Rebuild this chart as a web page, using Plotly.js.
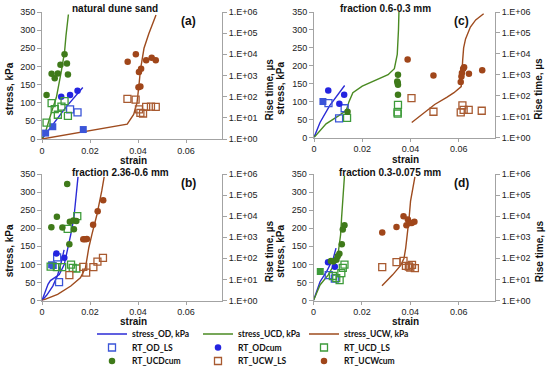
<!DOCTYPE html>
<html><head><meta charset="utf-8">
<script src="https://cdn.plot.ly/plotly-3.0.1.min.js"></script>
<style>html,body{margin:0;padding:0;background:#fff}#chart{width:550px;height:372px}</style>
</head><body><div id="chart"></div>
<script>
// ---------- tick labels ----------
const strainTickVals = [0, 0.02, 0.04, 0.06];
const strainTickText = ['0', '0.02', '0.04', '0.06'];
const stressTickVals = [0, 50, 100, 150, 200, 250, 300, 350];
const rtTickVals = [1, 10, 100, 1000, 10000, 100000, 1000000];
const rtTickText = ['1.E+00', '1.E+01', '1.E+02', '1.E+03', '1.E+04', '1.E+05', '1.E+06'];
const panelTitles = ['natural dune sand', 'fraction 2.36-0.6 mm', 'fraction 0.6-0.3 mm', 'fraction 0.3-0.075 mm'];
const panelLetters = ['(a)', '(b)', '(c)', '(d)'];

// ---------- panel (a) natural dune sand ----------
const a_OD_strain = [0, 0.0046, 0.0100, 0.0170];
const a_OD_stress = [0, 42, 88, 142];
const a_UCD_strain = [0, 0.0015, 0.004, 0.006, 0.008, 0.0094, 0.010, 0.011];
const a_UCD_stress = [0, 20, 75, 115, 185, 240, 285, 343];
const a_UCW_strain = [0, 0.0355, 0.0382, 0.0396, 0.0405, 0.041, 0.0425, 0.0445, 0.0475];
const a_UCW_stress = [0, 41, 68, 100, 155, 190, 250, 290, 342];
const a_RT_OD_LS_strain = [0.0117, 0.0148];
const a_RT_OD_LS_us = [25, 18];
const a_RT_OD_LS_solid_strain = [0.0015, 0.0045, 0.0172];
const a_RT_OD_LS_solid_us = [1.9, 3.8, 2.8];
const a_RT_ODcum_strain = [0.0080, 0.0117, 0.0148];
const a_RT_ODcum_us = [100, 120, 190];
const a_RT_UCD_LS_strain = [0.0019, 0.0040, 0.0053, 0.0066, 0.0081, 0.0094, 0.0108];
const a_RT_UCD_LS_us = [6, 50, 26, 14, 34, 62, 12.5];
const a_RT_UCDcum_strain = [0.0019, 0.0040, 0.0053, 0.0066, 0.0077, 0.0094, 0.0104, 0.0108];
const a_RT_UCDcum_us = [120, 1200, 750, 1250, 3200, 10000, 3700, 1100];
const a_RT_UCW_LS_strain = [0.0356, 0.0390, 0.0404, 0.0410, 0.0421, 0.0434, 0.0454, 0.0474];
const a_RT_UCW_LS_us = [78, 72, 25, 17, 16, 33, 34, 33];
const a_RT_UCWcum_strain = [0.0357, 0.0391, 0.0404, 0.0413, 0.0402, 0.0410, 0.0434, 0.0457, 0.0474];
const a_RT_UCWcum_us = [4500, 10000, 1450, 2100, 280, 300, 5200, 6900, 5300];

// ---------- panel (b) fraction 2.36-0.6 mm ----------
const b_OD_strain = [0, 0.002, 0.0045, 0.0065, 0.008, 0.0092];
const b_OD_stress = [0, 15, 40, 70, 105, 140];
const b_UCD_strain = [0, 0.0012, 0.0025, 0.0035, 0.005, 0.0072, 0.0093, 0.0106, 0.012, 0.0133, 0.0142, 0.015];
const b_UCD_stress = [0, 20, 45, 55, 62, 72, 100, 137, 183, 229, 280, 342];
const b_UCW_strain = [0, 0.0065, 0.012, 0.016, 0.0181, 0.0188, 0.0195, 0.0208, 0.0229, 0.0249, 0.0259];
const b_UCW_stress = [0, 17, 40, 63, 90, 118, 146, 183, 238, 303, 342];
const b_RT_OD_LS_strain = [0.0063, 0.0071];
const b_RT_OD_LS_us = [110, 7.5];
const b_RT_OD_LS_solid_strain = [0.0040, 0.0047];
const b_RT_OD_LS_solid_us = [50, 46];
const b_RT_ODcum_strain = [0.0060, 0.0093];
const b_RT_ODcum_us = [170, 107];
const b_RT_UCD_LS_strain = [0.0036, 0.0062, 0.0084, 0.0107, 0.0121, 0.0128, 0.0143, 0.0147];
const b_RT_UCD_LS_us = [40, 38, 38, 2500, 50, 35, 33, 10000];
const b_RT_UCDcum_strain = [0.0105, 0.0062, 0.0039, 0.0085, 0.0116, 0.0131, 0.0143, 0.0133, 0.0114];
const b_RT_UCDcum_us = [340000, 9500, 3000, 2900, 5500, 6300, 5900, 2400, 460];
const b_RT_UCW_LS_strain = [0.0114, 0.0172, 0.0184, 0.0214, 0.0231, 0.0254];
const b_RT_UCW_LS_us = [16, 39, 21, 38, 70, 105];
const b_RT_UCWcum_strain = [0.0255, 0.0232, 0.0213, 0.0172, 0.0180, 0.0187];
const b_RT_UCWcum_us = [57000, 17000, 3900, 800, 810, 820];

// ---------- panel (c) fraction 0.6-0.3 mm ----------
const c_OD_strain = [0, 0.0025, 0.0065, 0.0099, 0.0127];
const c_OD_stress = [0, 42, 89, 119, 145];
const c_UCD_strain = [0, 0.005, 0.0103, 0.0134, 0.0145, 0.0161, 0.020, 0.0253, 0.0307, 0.0333, 0.0345, 0.035, 0.0352];
const c_UCD_stress = [0, 38, 61, 76, 100, 125, 143, 158, 175, 192, 232, 300, 350];
const c_UCW_strain = [0.0405, 0.045, 0.050, 0.055, 0.058, 0.061, 0.0614, 0.0616, 0.062, 0.0628, 0.0648, 0.067, 0.0703];
const c_UCW_stress = [42, 65, 92, 112, 125, 142, 175, 215, 250, 275, 308, 328, 345];
const c_RT_OD_LS_strain = [0.0060, 0.0104, 0.0127];
const c_RT_OD_LS_us = [44, 8.3, 25];
const c_RT_OD_LS_solid_strain = [0.0037];
const c_RT_OD_LS_solid_us = [53];
const c_RT_ODcum_strain = [0.0059, 0.0105, 0.0125];
const c_RT_ODcum_us = [178, 41, 112];
const c_RT_UCD_LS_strain = [0.0137, 0.0348, 0.0346, 0.0347];
const c_RT_UCD_LS_us = [8.7, 36, 16, 14];
const c_RT_UCDcum_strain = [0.0139, 0.0348, 0.0345, 0.0347, 0.0348, 0.0348];
const c_RT_UCDcum_us = [17, 1000, 480, 400, 330, 110];
const c_RT_UCW_LS_strain = [0.0404, 0.0495, 0.0608, 0.0615, 0.0620, 0.0641, 0.0695];
const c_RT_UCW_LS_us = [76, 17, 16, 34, 21, 21, 19];
const c_RT_UCWcum_strain = [0.0388, 0.0495, 0.0608, 0.0611, 0.0613, 0.0618, 0.0622, 0.0642, 0.0697];
const c_RT_UCWcum_us = [5400, 930, 450, 830, 1200, 1950, 2300, 1120, 1620];

// ---------- panel (d) fraction 0.3-0.075 mm ----------
const d_OD_strain = [0, 0.0027, 0.0054, 0.0082, 0.0093];
const d_OD_stress = [0, 52, 80, 117, 145];
const d_UCD_strain = [0, 0.0027, 0.0061, 0.0088, 0.0102, 0.0112, 0.0116, 0.012, 0.0128];
const d_UCD_stress = [0, 43, 71, 103, 131, 182, 228, 274, 345];
const d_UCW_strain = [0.0283, 0.0327, 0.0361, 0.0374, 0.0381, 0.0388, 0.0395, 0.0401, 0.0411, 0.0419];
const d_UCW_stress = [41, 71, 98, 117, 145, 182, 228, 275, 312, 342];
const d_RT_OD_LS_strain = [0.0063, 0.0088];
const d_RT_OD_LS_us = [16, 11];
const d_RT_ODcum_strain = [0.0060, 0.0088];
const d_RT_ODcum_us = [66, 40];
const d_RT_UCD_LS_strain = [0.0128, 0.0121, 0.0115, 0.0108, 0.0094, 0.0080];
const d_RT_UCD_LS_us = [50, 35, 20, 9.2, 11.5, 14.5];
const d_RT_UCD_LS_solid_strain = [0.0028];
const d_RT_UCD_LS_solid_us = [24];
const d_RT_UCDcum_strain = [0.0128, 0.0121, 0.0117, 0.0107, 0.0100, 0.0095, 0.0082, 0.0072];
const d_RT_UCDcum_us = [3700, 2300, 470, 165, 125, 85, 70, 75];
const d_RT_UCW_LS_strain = [0.0284, 0.0343, 0.0372, 0.0382, 0.0394, 0.0400, 0.0407, 0.0419];
const d_RT_UCW_LS_us = [38, 66, 76, 44, 41, 36, 49, 34];
const d_RT_UCWcum_strain = [0.0284, 0.0343, 0.0372, 0.0384, 0.0390, 0.0398, 0.0406, 0.0417];
const d_RT_UCWcum_us = [1700, 3100, 10000, 3700, 6900, 4800, 4800, 5400];

// ---------- assemble ----------
const panelData = [
  {OD: [a_OD_strain, a_OD_stress], UCD: [a_UCD_strain, a_UCD_stress], UCW: [a_UCW_strain, a_UCW_stress],
   RT_OD_LS: [a_RT_OD_LS_strain, a_RT_OD_LS_us], RT_ODcum: [a_RT_ODcum_strain, a_RT_ODcum_us],
   RT_UCD_LS: [a_RT_UCD_LS_strain, a_RT_UCD_LS_us], RT_UCDcum: [a_RT_UCDcum_strain, a_RT_UCDcum_us],
   RT_UCW_LS: [a_RT_UCW_LS_strain, a_RT_UCW_LS_us], RT_UCWcum: [a_RT_UCWcum_strain, a_RT_UCWcum_us],
   solid: {RT_OD_LS: [a_RT_OD_LS_solid_strain, a_RT_OD_LS_solid_us]}},
  {OD: [b_OD_strain, b_OD_stress], UCD: [b_UCD_strain, b_UCD_stress], UCW: [b_UCW_strain, b_UCW_stress],
   RT_OD_LS: [b_RT_OD_LS_strain, b_RT_OD_LS_us], RT_ODcum: [b_RT_ODcum_strain, b_RT_ODcum_us],
   RT_UCD_LS: [b_RT_UCD_LS_strain, b_RT_UCD_LS_us], RT_UCDcum: [b_RT_UCDcum_strain, b_RT_UCDcum_us],
   RT_UCW_LS: [b_RT_UCW_LS_strain, b_RT_UCW_LS_us], RT_UCWcum: [b_RT_UCWcum_strain, b_RT_UCWcum_us],
   solid: {RT_OD_LS: [b_RT_OD_LS_solid_strain, b_RT_OD_LS_solid_us]}},
  {OD: [c_OD_strain, c_OD_stress], UCD: [c_UCD_strain, c_UCD_stress], UCW: [c_UCW_strain, c_UCW_stress],
   RT_OD_LS: [c_RT_OD_LS_strain, c_RT_OD_LS_us], RT_ODcum: [c_RT_ODcum_strain, c_RT_ODcum_us],
   RT_UCD_LS: [c_RT_UCD_LS_strain, c_RT_UCD_LS_us], RT_UCDcum: [c_RT_UCDcum_strain, c_RT_UCDcum_us],
   RT_UCW_LS: [c_RT_UCW_LS_strain, c_RT_UCW_LS_us], RT_UCWcum: [c_RT_UCWcum_strain, c_RT_UCWcum_us],
   solid: {RT_OD_LS: [c_RT_OD_LS_solid_strain, c_RT_OD_LS_solid_us]}},
  {OD: [d_OD_strain, d_OD_stress], UCD: [d_UCD_strain, d_UCD_stress], UCW: [d_UCW_strain, d_UCW_stress],
   RT_OD_LS: [d_RT_OD_LS_strain, d_RT_OD_LS_us], RT_ODcum: [d_RT_ODcum_strain, d_RT_ODcum_us],
   RT_UCD_LS: [d_RT_UCD_LS_strain, d_RT_UCD_LS_us], RT_UCDcum: [d_RT_UCDcum_strain, d_RT_UCDcum_us],
   RT_UCW_LS: [d_RT_UCW_LS_strain, d_RT_UCW_LS_us], RT_UCWcum: [d_RT_UCWcum_strain, d_RT_UCWcum_us],
   solid: {RT_UCD_LS: [d_RT_UCD_LS_solid_strain, d_RT_UCD_LS_solid_us]}}
];

const lineSeries = [
  {key: 'OD', name: 'stress_OD, kPa', color: '#2b2bd6', lw: 61},
  {key: 'UCD', name: 'stress_UCD, kPa', color: '#4a8a22', lw: 61},
  {key: 'UCW', name: 'stress_UCW, kPa', color: '#9e4b1e', lw: 85}
];
const markerSeries = [
  {key: 'RT_OD_LS', symbol: 'square-open', color: '#3b55d8', legend: 'legend2', lw: 61},
  {key: 'RT_ODcum', symbol: 'circle', color: '#2424e0', legend: 'legend2', lw: 61},
  {key: 'RT_UCD_LS', symbol: 'square-open', color: '#3d9b3a', legend: 'legend2', lw: 85},
  {key: 'RT_UCDcum', symbol: 'circle', color: '#3f7a1a', legend: 'legend3', lw: 61},
  {key: 'RT_UCW_LS', symbol: 'square-open', color: '#a85a30', legend: 'legend3', lw: 61},
  {key: 'RT_UCWcum', symbol: 'circle', color: '#a0461a', legend: 'legend3', lw: 85}
];

const W = 550, H = 372;
const boxes = [
  {x0: 42, x1: 222, y0: 12, y1: 139, xa: 'x', yl: 'y', yr: 'y2', rt: 47},
  {x0: 42, x1: 222, y0: 174, y1: 300.5, xa: 'x2', yl: 'y3', yr: 'y4', rt: 47},
  {x0: 314, x1: 495, y0: 12, y1: 137.5, xa: 'x3', yl: 'y5', yr: 'y6', rt: 44},
  {x0: 313.5, x1: 495, y0: 174, y1: 300.5, xa: 'x4', yl: 'y7', yr: 'y8', rt: 44}
];
const lineColorOverride = [{}, {UCD: '#2b2bd6'}, {}, {}];

const traces = [];
panelData.forEach((pd, i) => {
  const bx = boxes[i];
  lineSeries.forEach(s => {
    traces.push({
      type: 'scatter', mode: 'lines', name: s.name, x: pd[s.key][0], y: pd[s.key][1],
      xaxis: bx.xa, yaxis: bx.yl,
      line: {color: lineColorOverride[i][s.key] || s.color, width: 1.4},
      showlegend: i === 0, legend: 'legend', legendwidth: s.lw, hoverinfo: 'skip'
    });
  });
});
panelData.forEach((pd, i) => {
  const bx = boxes[i];
  markerSeries.forEach(s => {
    const open = s.symbol === 'square-open';
    traces.push({
      type: 'scatter', mode: 'markers', name: s.key, x: pd[s.key][0], y: pd[s.key][1],
      xaxis: bx.xa, yaxis: bx.yr,
      marker: open ? {symbol: 'square-open', size: 7, color: s.color, line: {color: s.color, width: 1.3}}
                   : {symbol: 'circle', size: 6.5, color: s.color},
      showlegend: i === 0, legend: s.legend, legendwidth: s.lw, hoverinfo: 'skip'
    });
    if (pd.solid[s.key]) {
      traces.push({
        type: 'scatter', mode: 'markers', name: s.key, x: pd.solid[s.key][0], y: pd.solid[s.key][1],
        xaxis: bx.xa, yaxis: bx.yr,
        marker: {symbol: 'square', size: 7, color: s.color},
        showlegend: false, hoverinfo: 'skip'
      });
    }
  });
});

const FONT = 'Liberation Sans, Arial, sans-serif';
const tickFont = {family: FONT, size: 9, color: '#222'};
const AX = '#a3a3a3';
const layout = {
  width: W, height: H,
  margin: {l: 0, r: 0, t: 0, b: 0, autoexpand: false},
  paper_bgcolor: '#fff', plot_bgcolor: 'rgba(0,0,0,0)',
  annotations: [], showlegend: true
};
const px = v => v / W, py = v => 1 - v / H;
boxes.forEach((bx, i) => {
  const n = i === 0 ? '' : String(i + 1);
  const yl = 'yaxis' + (i === 0 ? '' : String(2 * i + 1));
  const yr = 'yaxis' + String(2 * i + 2);
  const ylId = bx.yl;
  layout['xaxis' + n] = {
    domain: [px(bx.x0), px(bx.x1)], anchor: ylId, range: [0, 0.075],
    tickvals: strainTickVals, ticktext: strainTickText, tickfont: tickFont,
    showline: true, linecolor: AX, linewidth: 1, ticks: 'outside', ticklen: 3, tickcolor: AX,
    showgrid: false, zeroline: false, fixedrange: true
  };
  layout[yl] = {
    domain: [py(bx.y1), py(bx.y0)], anchor: bx.xa, range: [0, 350],
    tickvals: stressTickVals, tickfont: tickFont,
    showline: true, linecolor: AX, linewidth: 1, ticks: 'outside', ticklen: 4, tickcolor: AX,
    showgrid: false, zeroline: false, fixedrange: true
  };
  layout[yr] = {
    overlaying: ylId, anchor: bx.xa, side: 'right', type: 'log', range: [0, 6],
    tickvals: rtTickVals, ticktext: rtTickText, tickfont: tickFont,
    showline: true, linecolor: AX, linewidth: 1, ticks: 'outside', ticklen: 4, tickcolor: AX,
    showgrid: false, zeroline: false, fixedrange: true
  };
  const bold = {family: FONT, size: 10, color: '#111', weight: 'bold'};
  const cx = (bx.x0 + bx.x1) / 2;
  const titleX = [115, 120, 385, 390][i];
  const top = i === 0 || i === 2;
  layout.annotations.push(
    {text: panelTitles[i], x: px(titleX), y: py(bx.y0 - (top ? 3 : 2)), xref: 'paper', yref: 'paper', showarrow: false,
     xanchor: 'center', yanchor: 'middle', font: bold},
    {text: panelLetters[i], x: px(bx.x1 - 34), y: py(bx.y0 + 9), xref: 'paper', yref: 'paper', showarrow: false,
     xanchor: 'center', yanchor: 'middle', font: {family: FONT, size: 12, color: '#111', weight: 'bold'}},
    {text: 'strain', x: px(cx + 1), y: py(bx.y1 + (top ? 21.5 : 20.5)), xref: 'paper', yref: 'paper', showarrow: false,
     xanchor: 'center', yanchor: 'middle', font: bold},
    {text: 'stress, kPa', x: px(bx.x0 - 33), y: py((bx.y0 + bx.y1) / 2 + 14), xref: 'paper', yref: 'paper', showarrow: false,
     textangle: -90, xanchor: 'center', yanchor: 'middle', font: bold},
    {text: 'Rise time, µs', x: px(bx.x1 + bx.rt), y: py((bx.y0 + bx.y1) / 2 + 14), xref: 'paper', yref: 'paper', showarrow: false,
     textangle: -90, xanchor: 'center', yanchor: 'middle', font: bold}
  );
});
const legFont = {family: 'Lato, ' + FONT, size: 8.5, color: '#111', weight: 'bold'};
const legBase = {orientation: 'h', xref: 'paper', yref: 'paper', xanchor: 'left', yanchor: 'top',
  font: legFont, entrywidthmode: 'pixels', bgcolor: 'rgba(0,0,0,0)', itemclick: false, itemdoubleclick: false};
layout.legend = Object.assign({}, legBase, {x: px(92), y: py(319.5)});
layout.legend2 = Object.assign({}, legBase, {x: px(92), y: py(333)});
layout.legend3 = Object.assign({}, legBase, {x: px(92), y: py(346.5)});

Plotly.newPlot('chart', traces, layout, {staticPlot: true, displayModeBar: false});
</script>
</body></html>
